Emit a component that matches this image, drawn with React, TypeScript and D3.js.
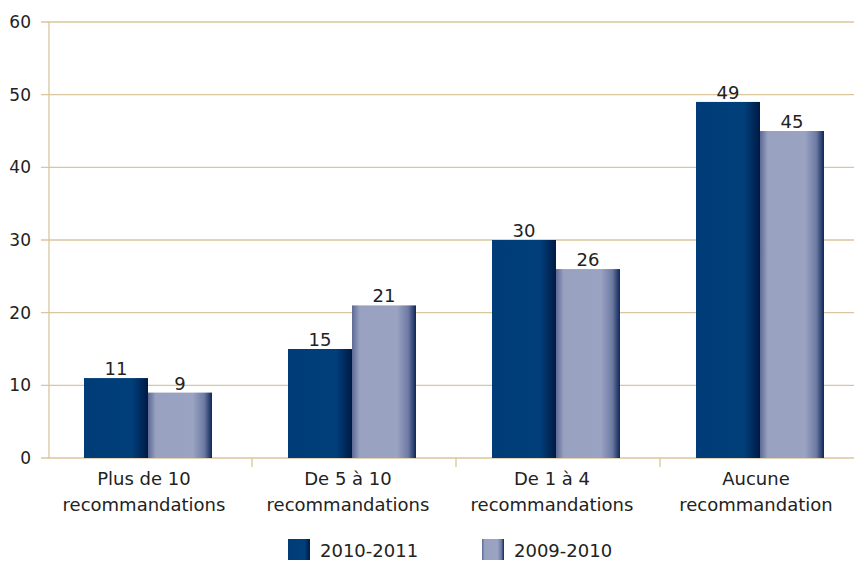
import React, { useEffect, useRef } from "react";
import * as d3 from "d3";

const categories = ["Plus de 10|recommandations", "De 5 à 10|recommandations", "De 1 à 4|recommandations", "Aucune|recommandation"];
const seriesNames = ["2010-2011", "2009-2010"];
const values2010 = [11, 15, 30, 49];
const values2009 = [9, 21, 26, 45];
const yTicks = [0, 10, 20, 30, 40, 50, 60];

const W = 854;
const H = 562;
const FONT = "'DejaVu Sans', sans-serif";

export default function App() {
  const ref = useRef<SVGSVGElement>(null);

  useEffect(() => {
    if (!ref.current) return;
    const svg = d3.select(ref.current);
    svg.selectAll("*").remove();

    const defs = svg.append("defs");
    const dark = defs.append("linearGradient").attr("id", "gDark").attr("x1", 0).attr("x2", 1).attr("y1", 0).attr("y2", 0);
    dark.append("stop").attr("offset", "0%").attr("stop-color", "#003d78");
    dark.append("stop").attr("offset", "75%").attr("stop-color", "#003f7a");
    dark.append("stop").attr("offset", "100%").attr("stop-color", "#001a45");
    const light = defs.append("linearGradient").attr("id", "gLight").attr("x1", 0).attr("x2", 1).attr("y1", 0).attr("y2", 0);
    light.append("stop").attr("offset", "0%").attr("stop-color", "#5c6994");
    light.append("stop").attr("offset", "12%").attr("stop-color", "#98a1c0");
    light.append("stop").attr("offset", "70%").attr("stop-color", "#9aa3c2");
    light.append("stop").attr("offset", "88%").attr("stop-color", "#6d7aa3");
    light.append("stop").attr("offset", "100%").attr("stop-color", "#0d2658");

    const left = 48, right = 864, top = 22, bottom = 458;
    const y = d3.scaleLinear().domain([0, 60]).range([bottom, top]);
    const x0 = d3.scaleBand().domain(categories).range([left, right]).paddingInner(0);
    const x1 = d3.scaleBand().domain(seriesNames).range([36, 164]).padding(0);

    const grid = "#d8c69c";
    svg.append("g").selectAll("line").data(yTicks).join("line")
      .attr("x1", 41).attr("x2", W).attr("y1", d => y(d)).attr("y2", d => y(d))
      .attr("stroke", grid).attr("stroke-width", 1.3);
    svg.append("line").attr("x1", 49).attr("x2", 49).attr("y1", top).attr("y2", bottom)
      .attr("stroke", grid).attr("stroke-width", 1.3);
    svg.append("g").selectAll("line").data(categories.slice(1)).join("line")
      .attr("x1", d => x0(d)!).attr("x2", d => x0(d)!).attr("y1", bottom).attr("y2", bottom + 9)
      .attr("stroke", grid).attr("stroke-width", 1.3);

    svg.append("g").selectAll("text").data(yTicks).join("text")
      .attr("x", 31).attr("y", d => y(d) + 6).attr("text-anchor", "end")
      .attr("font-family", FONT).attr("font-size", 17).attr("fill", "#222")
      .text(d => d);

    const series = [
      { name: seriesNames[0], values: values2010, fill: "url(#gDark)" },
      { name: seriesNames[1], values: values2009, fill: "url(#gLight)" },
    ];

    series.forEach(s => {
      const g = svg.append("g");
      g.selectAll("rect").data(categories).join("rect")
        .attr("x", (c) => x0(c)! + x1(s.name)!)
        .attr("y", (c, i) => y(s.values[i]))
        .attr("width", x1.bandwidth())
        .attr("height", (c, i) => bottom - y(s.values[i]))
        .attr("fill", s.fill);
      g.selectAll("text").data(categories).join("text")
        .attr("x", (c) => x0(c)! + x1(s.name)! + x1.bandwidth() / 2)
        .attr("y", (c, i) => y(s.values[i]) - 3)
        .attr("text-anchor", "middle")
        .attr("font-family", FONT).attr("font-size", 18).attr("fill", "#222")
        .text((c, i) => s.values[i]);
    });

    const labels = svg.append("g");
    categories.forEach(c => {
      const lines = c.split("|");
      lines.forEach((l, i) => {
        labels.append("text")
          .attr("x", x0(c)! + x0.bandwidth() / 2 - 6)
          .attr("y", 485 + i * 26)
          .attr("text-anchor", "middle")
          .attr("font-family", FONT).attr("font-size", 18).attr("fill", "#222")
          .text(l);
      });
    });

    const legendX = [288, 482];
    series.forEach((s, i) => {
      svg.append("rect").attr("x", legendX[i]).attr("y", 539).attr("width", 22).attr("height", 21).attr("fill", s.fill);
      svg.append("text").attr("x", legendX[i] + 32).attr("y", 557)
        .attr("font-family", FONT).attr("font-size", 18).attr("fill", "#222").text(s.name);
    });
  }, []);

  return <svg ref={ref} width={W} height={H} style={{ position: "absolute", left: 0, top: 0 }} />;
}
